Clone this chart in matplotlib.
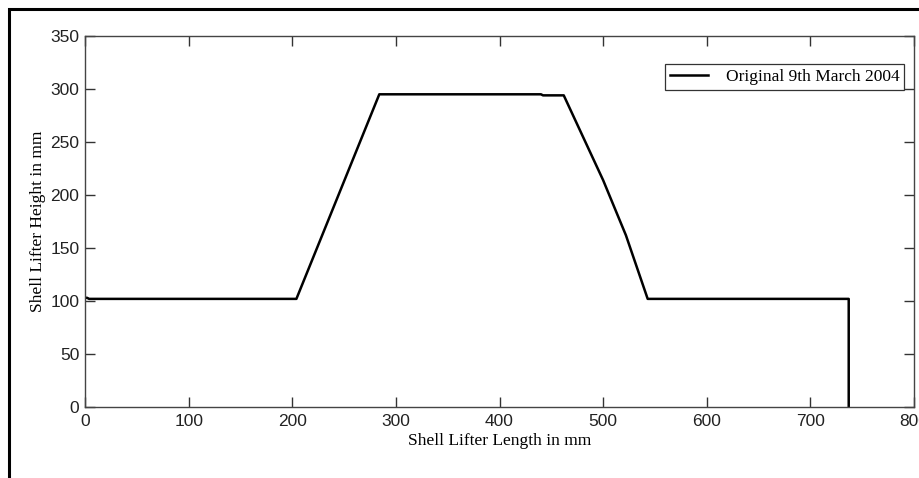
from matplotlib import pyplot as plt
from matplotlib.patches import Rectangle

# lifter profile
length = [0, 2, 4, 204, 284, 440, 442, 462, 500, 522, 543, 737, 737]
height = [103, 103, 102, 102, 295, 295, 294, 294, 214, 162, 102, 102, 0]

xticks = [0, 100, 200, 300, 400, 500, 600, 700, 800]
yticks = [0, 50, 100, 150, 200, 250, 300, 350]

fig = plt.figure(figsize=(9.19, 4.78), dpi=100)
ax = fig.add_axes([85 / 919, 1 - 407 / 478, (914 - 85) / 919, (407 - 36) / 478])

ax.plot(length, height, color='black', linewidth=1.8, label='Original 9th March 2004')

ax.set_xlim(0, 800)
ax.set_ylim(0, 350)
ax.set_xticks(xticks)
ax.set_yticks(yticks)

ax.tick_params(direction='in', length=7, width=1, top=True, right=True,
               labelsize=12.5, colors='#333333', labelcolor='#222222')
ax.tick_params(axis='x', pad=5)
ax.tick_params(axis='y', pad=4)
for lab in ax.get_xticklabels() + ax.get_yticklabels():
	lab.set_family('Liberation Sans')
for s in ax.spines.values():
	s.set_color('#444444')
	s.set_linewidth(1)

ax.set_xlabel('Shell Lifter Length in mm', family='Liberation Serif', fontsize=12.5, labelpad=3)
ax.set_ylabel('Shell Lifter Height in mm', family='Liberation Serif', fontsize=12.5, labelpad=3)

leg = ax.legend(loc='upper right', bbox_to_anchor=(0.9885, 0.925), prop={'family': 'Liberation Serif', 'size': 12.5},
                fancybox=False, framealpha=1, edgecolor='#333333', borderpad=0.3,
                handlelength=2.2, handletextpad=1.0, borderaxespad=0)
leg.get_frame().set_linewidth(0.9)

# outer figure frame (left and top edges show)
fig.patches.append(Rectangle((9 / 919, -0.1), 1.2, 1.1 - 9 / 478, transform=fig.transFigure,
                             fill=False, edgecolor='black', linewidth=2.2))

plt.savefig('out.png', dpi=100)
